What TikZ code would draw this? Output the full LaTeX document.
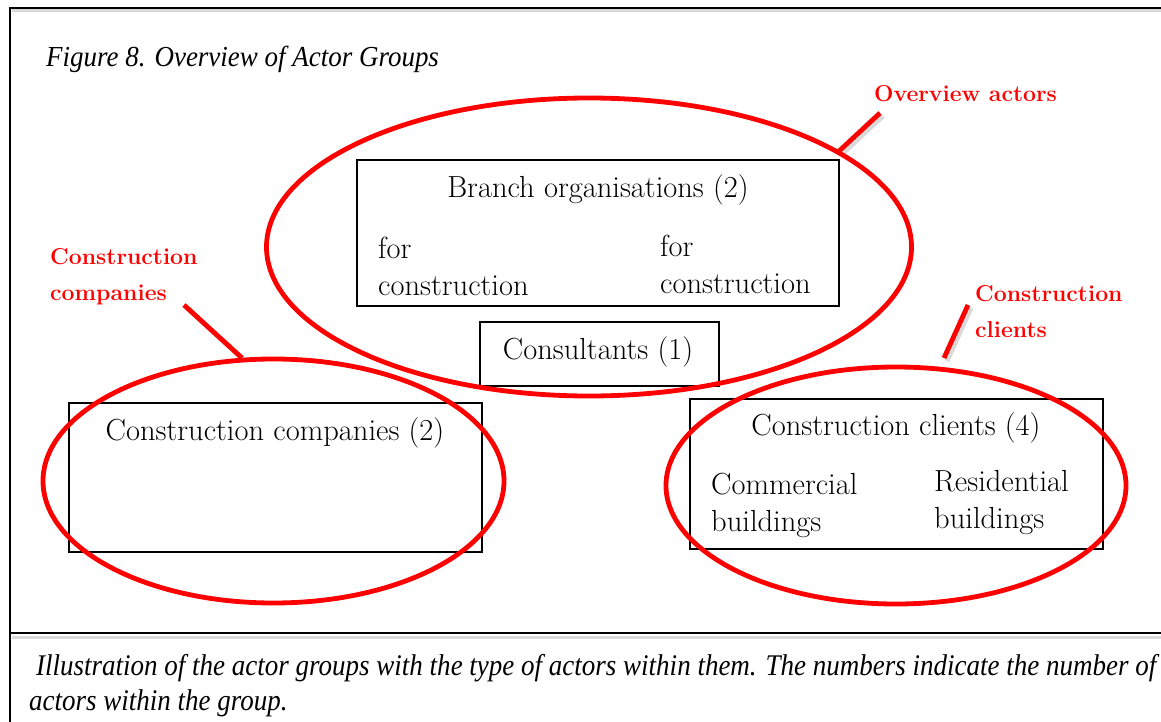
\documentclass[tikz,border=0pt]{standalone}
\usepackage{fontspec}
\usetikzlibrary{shapes.geometric}
\newfontfamily\capfont[FakeStretch=0.9]{Liberation Serif}
\newfontfamily\titfont[FakeStretch=0.93]{Liberation Serif}
\definecolor{rd}{RGB}{255,0,0}
\tikzset{
  frameline/.style={line width=1.8pt, black},
  box/.style={draw, line width=1.3pt, inner sep=0pt},
  boxtxt/.style={font=\fontsize{30.5}{37}\selectfont, inner sep=0pt},
  redell/.style={draw=rd, line width=4.8pt, ellipse, inner sep=0pt},
  redline/.style={draw=rd, line width=4.8pt},
  shadowline/.style={draw=black!25, line width=4.8pt, opacity=0.6},
  redlbl/.style={text=rd, font=\fontsize{23}{36}\selectfont\bfseries, inner sep=0pt, align=left},
  captxt/.style={anchor=west, inner sep=0pt, font=\fontsize{30}{34}\selectfont\capfont\itshape},
}
\begin{document}
\begin{tikzpicture}[x=1pt,y=-1pt]
\useasboundingbox (0,0) rectangle (1161,722);
\clip (0,0) rectangle (1161,722);
% frame
\draw[black!15, line width=3pt] (12,11) -- (1170,11);
\draw[black!15, line width=3pt] (12,637) -- (1170,637);
\draw[frameline] (10,722) -- (10,8) -- (1170,8);
\draw[line width=2.6pt] (10,633) -- (1170,633);
\node[anchor=west, inner sep=0pt, font=\fontsize{29}{32}\selectfont\titfont\itshape] (title) at (46,59) {Figure 8. Overview of Actor Groups};
% boxes
\node[box, minimum width=482pt, minimum height=146pt] (branch) at (598,233) {};
\node[boxtxt] (branchT) at (598,190) {Branch organisations (2)};
\node[boxtxt, anchor=west, align=left] (bl) at (378,266) {for\\construction};
\node[boxtxt, anchor=west, align=left] (br) at (660,264) {for\\construction};
\node[box, minimum width=239pt, minimum height=64pt] (cons) at (599.5,354) {};
\node[boxtxt] (consT) at (598,352) {Consultants (1)};
\node[box, minimum width=413pt, minimum height=149pt] (comp) at (275.5,477.5) {};
\node[boxtxt] (compT) at (275,433) {Construction companies (2)};
\node[box, minimum width=413pt, minimum height=150pt] (cli) at (896.5,474) {};
\node[boxtxt] (cliT) at (896,428) {Construction clients (4)};
\node[boxtxt, anchor=west, align=left] (com) at (711,505) {Commercial\\buildings};
\node[boxtxt, anchor=west, align=left] (res) at (934,503) {Residential\\buildings};
% labels
\node[redlbl, anchor=west] (lTop) at (874,94) {Overview actors};
\node[redlbl, anchor=west] (lLeft) at (50,277) {Construction\\companies};
\node[redlbl, anchor=west] (lRight) at (975,312) {Construction\\clients};
\coordinate (pTop1) at (880,113);
\coordinate (pTop2) at (838,152);
\coordinate (pLeft1) at (184,305);
\coordinate (pLeft2) at (242,358);
\coordinate (pRight1) at (968,305);
\coordinate (pRight2) at (944,358);
\draw[shadowline] ([shift={(3,3)}]pTop1) -- ([shift={(3,3)}]pTop2);
\draw[shadowline] ([shift={(3,3)}]pLeft1) -- ([shift={(3,3)}]pLeft2);
\draw[shadowline] ([shift={(3,3)}]pRight1) -- ([shift={(3,3)}]pRight2);
\draw[redline] (pTop1) -- (pTop2);
\draw[redline] (pLeft1) -- (pLeft2);
\draw[redline] (pRight1) -- (pRight2);
% ellipses
\node[redell, minimum width=645pt, minimum height=298pt] (eTop) at (589,247) {};
\node[redell, minimum width=461pt, minimum height=244pt] (eLeft) at (273.5,481) {};
\node[redell, minimum width=460pt, minimum height=237pt] (eRight) at (896,485.5) {};
% caption
\node[captxt] (cap1) at (36,668) {Illustration of the actor groups with the type of actors within them. The numbers indicate the number of};
\node[captxt] (cap2) at (29,703) {actors within the group.};
\end{tikzpicture}
\end{document}
